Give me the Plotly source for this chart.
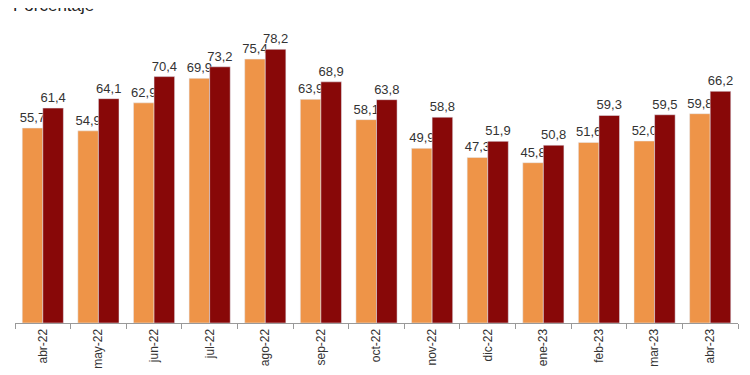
import plotly.graph_objects as go

categories = ["abr-22", "may-22", "jun-22", "jul-22", "ago-22", "sep-22", "oct-22",
              "nov-22", "dic-22", "ene-23", "feb-23", "mar-23", "abr-23"]
serie_a = [55.7, 54.9, 62.9, 69.9, 75.4, 63.9, 58.1, 49.9, 47.3, 45.8, 51.6, 52.0, 59.8]
serie_b = [61.4, 64.1, 70.4, 73.2, 78.2, 68.9, 63.8, 58.8, 51.9, 50.8, 59.3, 59.5, 66.2]

font_family = "Liberation Sans, Arial, sans-serif"

fig = go.Figure()
fig.add_trace(go.Bar(x=categories, y=serie_a, marker_color="#EE9448",
                     texttemplate="%{y:.1f}", textposition="outside", cliponaxis=False,
                     textfont=dict(size=13, color="#333333", family=font_family),
                     showlegend=False))
fig.add_trace(go.Bar(x=categories, y=serie_b, marker_color="#880808",
                     texttemplate="%{y:.1f}", textposition="outside", cliponaxis=False,
                     textfont=dict(size=13, color="#333333", family=font_family),
                     showlegend=False))

fig.update_layout(
    width=750, height=375,
    margin=dict(l=7, r=20, t=35, b=60, autoexpand=False),
    paper_bgcolor="white", plot_bgcolor="white",
    barmode="group", bargap=0.26, bargroupgap=0,
    separators=",.",
    font=dict(family=font_family, color="#333333"),
    uniformtext=dict(minsize=13, mode="show"),
)
fig.update_xaxes(
    type="category", tickangle=-90, tickfont=dict(size=12, color="#333333"),
    showline=True, linecolor="#999999", linewidth=1,
    ticks="outside", tickson="boundaries", ticklen=5, tickcolor="#999999",
    showgrid=False, automargin=False,
)
fig.update_yaxes(range=[0, 80], visible=False, showgrid=False, zeroline=False,
                 automargin=False)

fig.add_annotation(text="Porcentaje", xref="paper", yref="paper", x=-0.006, y=1.092,
                   xanchor="left", yanchor="bottom", showarrow=False,
                   font=dict(size=17, color="#222222", family=font_family))

fig.write_html("out.html")
